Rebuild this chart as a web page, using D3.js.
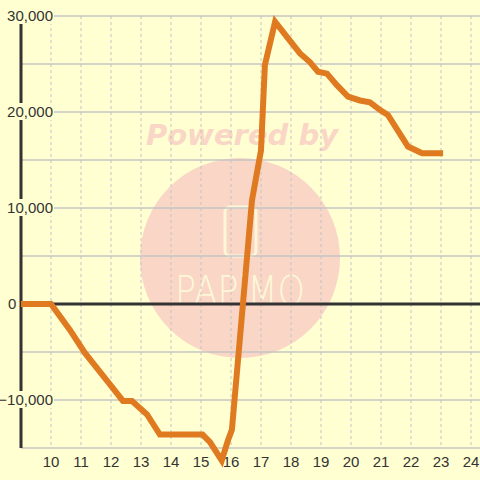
<!DOCTYPE html>
<html><head><meta charset="utf-8">
<script src="https://cdn.jsdelivr.net/npm/d3@7"></script>
<style>html,body{margin:0;padding:0;background:#ffffd2;}svg{display:block;}</style>
</head><body>
<script>
const xValues = [9, 10, 10.63, 11.13, 11.97, 12.4, 12.7, 13.2, 13.63, 15.05, 15.3, 15.69, 15.9, 16.03, 16.7, 17.0, 17.13, 17.47, 17.87, 18.3, 18.63, 18.9, 19.2, 19.53, 19.9, 20.3, 20.63, 20.97, 21.23, 21.9, 22.37, 23.07];
const yValues = [0, 0, -2700, -5100, -8400, -10100, -10100, -11500, -13600, -13600, -14400, -16300, -14200, -13100, 10800, 16000, 24900, 29400, 27800, 26100, 25200, 24200, 24000, 22800, 21600, 21200, 21000, 20200, 19700, 16400, 15700, 15700];
const xTicks = [10,11,12,13,14,15,16,17,18,19,20,21,22,23,24];
const yTicks = [-15000,-10000,-5000,0,5000,10000,15000,20000,25000,30000];
const yLabelTicks = [-10000,0,10000,20000,30000];

const W=480,H=480,bg="#ffffd2";
const svg=d3.select("body").append("svg").attr("width",W).attr("height",H);
svg.append("rect").attr("width",W).attr("height",H).attr("fill",bg);
const x=d3.scaleLinear().domain([9,24]).range([21,471]);
const y=d3.scaleLinear().domain([-15000,30000]).range([448,16]);

// watermark
const wm=svg.append("g");
wm.append("text").attr("x",242).attr("y",145).attr("text-anchor","middle")
  .attr("font-family","DejaVu Sans").attr("font-weight","bold").attr("font-style","italic")
  .attr("font-size",29).attr("fill","#fad6c6").text("Powered by");
wm.append("circle").attr("cx",240).attr("cy",258).attr("r",100).attr("fill","#fad6c6");
wm.append("rect").attr("x",225).attr("y",207).attr("width",31).attr("height",49).attr("rx",5)
  .attr("fill","none").attr("stroke","#fdf8d6").attr("stroke-width",3);
wm.append("text").attr("x",175).attr("y",305)
  .attr("font-family","DejaVu Sans").attr("font-weight",200).attr("font-size",40)
  .attr("textLength",130).attr("lengthAdjust","spacingAndGlyphs")
  .attr("fill","#fdf8d6").text("PAPiMO");

// grid
svg.append("g").selectAll("line").data(xTicks).join("line")
  .attr("x1",d=>x(d)).attr("x2",d=>x(d)).attr("y1",y(30000)).attr("y2",y(-15000))
  .attr("stroke","#c4c4c4").attr("stroke-width",1).attr("stroke-dasharray","3,3");
svg.append("g").selectAll("line").data(yTicks.filter(d=>d!==0)).join("line")
  .attr("x1",x(9)).attr("x2",W).attr("y1",d=>y(d)).attr("y2",d=>y(d))
  .attr("stroke","#c4c4c4").attr("stroke-width",1.5);
svg.append("line").attr("x1",x(9)).attr("x2",W).attr("y1",y(0)).attr("y2",y(0))
  .attr("stroke","#333").attr("stroke-width",3);
svg.append("line").attr("x1",x(9)).attr("x2",x(9)).attr("y1",24).attr("y2",y(-15000))
  .attr("stroke","#333").attr("stroke-width",3);

// y labels with background
const fmt=d3.format(",");
const yl=svg.append("g");
yLabelTicks.forEach(v=>{
  const t=yl.append("text").attr("x",v===0?8:53).attr("y",y(v)+5).attr("text-anchor",v===0?"start":"end")
    .attr("font-family","Liberation Sans, Arial").attr("font-size",15).attr("fill","#333").text(fmt(v));
  const b=t.node().getBBox();
  yl.insert("rect","text").attr("x",b.x-1).attr("y",b.y).attr("width",b.width+2).attr("height",b.height).attr("fill",bg);
});
// x labels
svg.append("g").selectAll("text").data(xTicks).join("text")
  .attr("x",d=>x(d)).attr("y",467).attr("text-anchor","middle")
  .attr("font-family","Liberation Sans, Arial").attr("font-size",15).attr("fill","#333").text(d=>d);

// data line
const pts=xValues.map((v,i)=>[v,yValues[i]]);
svg.append("path").datum(pts).attr("fill","none").attr("stroke","#e07a21").attr("stroke-width",6)
  .attr("stroke-linejoin","miter").attr("d",d3.line().x(d=>x(d[0])).y(d=>y(d[1])));
</script>
</body></html>
